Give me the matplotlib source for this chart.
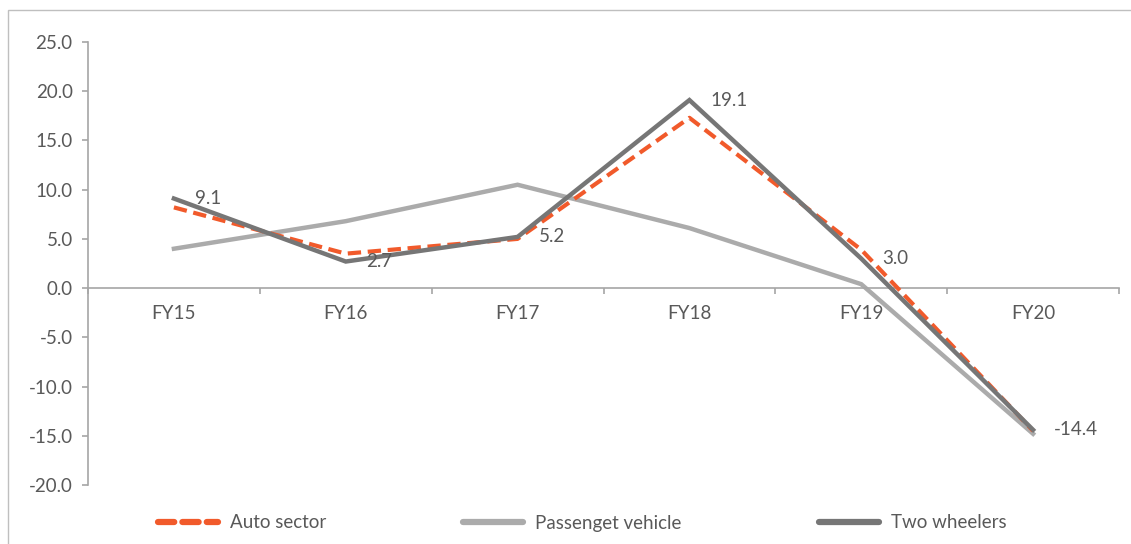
import matplotlib
matplotlib.use("Agg")
import matplotlib.pyplot as plt
from matplotlib.lines import Line2D
from matplotlib.patches import Rectangle

plt.rcParams['font.family'] = ['Lato', 'DejaVu Sans']

# Annual growth (%) by segment
years = ["FY15", "FY16", "FY17", "FY18", "FY19", "FY20"]
auto_sector = [8.2, 3.5, 5.0, 17.3, 3.9, -14.5]
passenger_vehicle = [4.0, 6.8, 10.5, 6.1, 0.4, -14.8]
two_wheelers = [9.1, 2.7, 5.2, 19.1, 3.0, -14.4]
y_ticks = [25.0, 20.0, 15.0, 10.0, 5.0, 0.0, -5.0, -10.0, -15.0, -20.0]

TEXT = "#595959"
AXIS = "#A6A6A6"
ORANGE = "#F15A2B"
LIGHT = "#ABABAB"
DARK = "#767676"
FS = 13.5

W, H = 1131, 544
fig = plt.figure(figsize=(W / 100, H / 100), dpi=100)

# chart frame (left and top edges visible)
fig.patches.append(Rectangle((8 / W, -0.2), 1.2, 1.2 - 10 / H,
                             transform=fig.transFigure, fill=False,
                             edgecolor="#BFBFBF", linewidth=1.0))

ax = fig.add_axes([88 / W, 1 - 485 / H, 1031 / W, 443 / H])
x = list(range(len(years)))

ax.plot(x, passenger_vehicle, color=LIGHT, lw=3.2, solid_joinstyle="miter", zorder=2)
ax.plot(x, auto_sector, color=ORANGE, lw=3.0, dashes=(3.2, 1.6), zorder=3)
ax.plot(x, two_wheelers, color=DARK, lw=3.2, solid_joinstyle="miter", zorder=4)

for xi, v in zip(x, two_wheelers):
    ax.annotate(f"{v:.1f}", (xi, v), xytext=(15, 0), textcoords="offset points",
                ha="left", va="center", fontsize=FS, color=TEXT, zorder=5)

ax.set_xlim(-0.5, len(years) - 0.5)
ax.set_ylim(-20, 25)
ax.set_yticks(y_ticks)
ax.set_yticklabels([f"{t:.1f}" for t in y_ticks])
ax.set_xticks(x)
ax.set_xticklabels(years)
ax.set_xticks([i - 0.5 for i in range(len(years) + 1)], minor=True)

for s in ("top", "right"):
    ax.spines[s].set_visible(False)
ax.spines["bottom"].set_position(("data", 0))
for s in ("left", "bottom"):
    ax.spines[s].set_color(AXIS)
    ax.spines[s].set_linewidth(1.2)

ax.tick_params(axis="x", which="major", length=0, pad=12, labelsize=FS, labelcolor=TEXT)
ax.tick_params(axis="x", which="minor", length=4, width=1.2, color=AXIS, direction="out")
ax.tick_params(axis="y", length=4, width=1.2, color=AXIS, pad=7, labelsize=FS, labelcolor=TEXT)

# legend entries spaced across the bottom
entries = [
    (Line2D([], [], color=ORANGE, lw=4.5, dashes=(2.6, 1.3), dash_capstyle="round"), "Auto sector", 150),
    (Line2D([], [], color=LIGHT, lw=4.5, solid_capstyle="round"), "Passenget vehicle", 455),
    (Line2D([], [], color=DARK, lw=4.5, solid_capstyle="round"), "Two wheelers", 811),
]
for handle, label, px in entries:
    leg = fig.legend([handle], [label], loc="center left",
                     bbox_to_anchor=(px / W, 1 - 523 / H), frameon=False,
                     handlelength=3.25, handletextpad=0.6, borderaxespad=0,
                     fontsize=FS, labelcolor=TEXT)

fig.savefig("out.png", dpi=100)
